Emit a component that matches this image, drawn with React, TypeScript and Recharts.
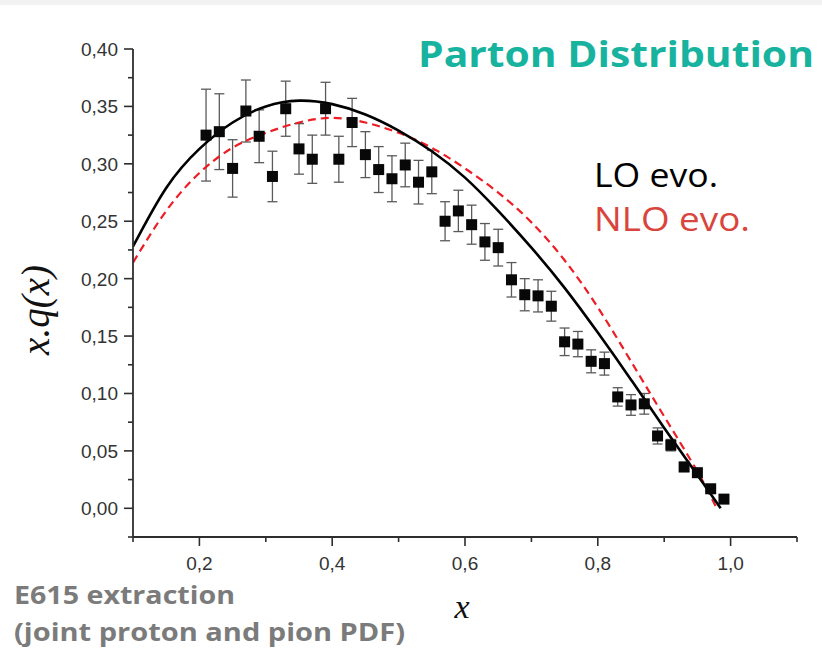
import { ComposedChart, Line, Scatter, ErrorBar, XAxis, YAxis } from 'recharts';

// E615 extraction points (x, x.q(x), error)
const pointX = [0.21, 0.23, 0.25, 0.27, 0.29, 0.31, 0.33, 0.35, 0.37, 0.39, 0.41, 0.43, 0.45, 0.47, 0.49, 0.51, 0.53, 0.55, 0.57, 0.59, 0.61, 0.63, 0.65, 0.67, 0.69, 0.71, 0.73, 0.75, 0.77, 0.79, 0.81, 0.83, 0.85, 0.87, 0.89, 0.91, 0.93, 0.95, 0.97, 0.99];
const pointY = [0.325, 0.328, 0.296, 0.346, 0.324, 0.289, 0.348, 0.313, 0.304, 0.348, 0.304, 0.336, 0.308, 0.295, 0.287, 0.299, 0.284, 0.293, 0.250, 0.259, 0.247, 0.232, 0.227, 0.199, 0.186, 0.185, 0.176, 0.145, 0.143, 0.128, 0.126, 0.097, 0.090, 0.091, 0.063, 0.055, 0.036, 0.031, 0.017, 0.008];
const pointErr = [0.040, 0.033, 0.025, 0.027, 0.023, 0.022, 0.024, 0.022, 0.021, 0.023, 0.020, 0.021, 0.020, 0.020, 0.020, 0.019, 0.019, 0.019, 0.017, 0.018, 0.017, 0.016, 0.016, 0.015, 0.014, 0.014, 0.013, 0.012, 0.011, 0.010, 0.010, 0.008, 0.009, 0.009, 0.007, 0.005, 0.004, 0.003, 0.002, 0.001];

// LO evolution curve
const loX = [0.1, 0.15, 0.2, 0.25, 0.3, 0.35, 0.4, 0.45, 0.5, 0.55, 0.6, 0.65, 0.7, 0.75, 0.8, 0.85, 0.9, 0.95, 0.985];
const loY = [0.228, 0.279, 0.313, 0.336, 0.350, 0.355, 0.352, 0.343, 0.329, 0.311, 0.288, 0.259, 0.227, 0.192, 0.153, 0.112, 0.070, 0.029, 0.0];

// NLO evolution curve
const nloX = [0.1, 0.15, 0.2, 0.25, 0.3, 0.35, 0.4, 0.45, 0.5, 0.55, 0.6, 0.65, 0.7, 0.75, 0.8, 0.85, 0.9, 0.95, 0.979];
const nloY = [0.214, 0.259, 0.292, 0.314, 0.327, 0.336, 0.340, 0.336, 0.327, 0.314, 0.296, 0.275, 0.249, 0.216, 0.175, 0.128, 0.080, 0.032, 0.0];

const xTicks = [0.1, 0.2, 0.3, 0.4, 0.5, 0.6, 0.7, 0.8, 0.9, 1.0, 1.1];
const yTicks = [-0.025, 0, 0.025, 0.05, 0.075, 0.1, 0.125, 0.15, 0.175, 0.2, 0.225, 0.25, 0.275, 0.3, 0.325, 0.35, 0.375, 0.4];

const points = pointX.map((x, i) => ({ x, y: pointY[i], err: pointErr[i] }));
const loData = loX.map((x, i) => ({ x, y: loY[i] }));
const nloData = nloX.map((x, i) => ({ x, y: nloY[i] }));

const AXIS = '#2e2e2e';
const TICK_FONT = '"Liberation Sans", Arial, sans-serif';

function XTick(props: any) {
  const { x, y, payload } = props;
  const major = Math.round(payload.value * 10) % 2 === 0;
  return (
    <g>
      <line x1={x} x2={x} y1={y} y2={y + (major ? 9 : 5)} stroke={AXIS} strokeWidth={1.6} />
      {major && (
        <text x={x} y={y + 33} textAnchor="middle" fontSize={19} fontFamily={TICK_FONT} fill="#333">
          {payload.value.toFixed(1).replace('.', ',')}
        </text>
      )}
    </g>
  );
}

function YTick(props: any) {
  const { x, y, payload } = props;
  const major = Math.round(payload.value * 1000) % 50 === 0;
  return (
    <g>
      <line x1={x} x2={x - (major ? 9 : 5)} y1={y} y2={y} stroke={AXIS} strokeWidth={1.6} />
      {major && (
        <text x={x - 15} y={y + 7} textAnchor="end" fontSize={19} fontFamily={TICK_FONT} fill="#333">
          {payload.value.toFixed(2).replace('.', ',')}
        </text>
      )}
    </g>
  );
}

function Square(props: any) {
  const { cx, cy } = props;
  return <rect x={cx - 5.5} y={cy - 5.5} width={11} height={11} fill="#080808" />;
}

export default function App() {
  return (
    <div style={{ position: 'absolute', left: 0, top: 0, width: 822, height: 659, background: '#fff' }}>
      <div style={{ position: 'absolute', left: 0, top: 0, width: 822, height: 5, background: '#f1f2f1' }} />
      <ComposedChart width={822} height={659} margin={{ top: 49, right: 25, left: 0, bottom: 0 }}>
        <XAxis
          dataKey="x"
          type="number"
          domain={[0.1, 1.1]}
          ticks={xTicks}
          interval={0}
          allowDataOverflow
          height={122}
          tickSize={0}
          tickMargin={0}
          tickLine={false}
          axisLine={{ stroke: AXIS, strokeWidth: 1.8 }}
          tick={(p: any) => <XTick {...p} />}
        />
        <YAxis
          type="number"
          domain={[-0.025, 0.4]}
          ticks={yTicks}
          interval={0}
          allowDataOverflow
          width={133}
          tickSize={0}
          tickMargin={0}
          tickLine={false}
          axisLine={{ stroke: AXIS, strokeWidth: 1.8 }}
          tick={(p: any) => <YTick {...p} />}
        />
        <Scatter data={points} dataKey="y" shape={<Square />} isAnimationActive={false}>
          <ErrorBar dataKey="err" direction="y" width={5} stroke="#5a5a5a" strokeWidth={1.3} isAnimationActive={false} />
        </Scatter>
        <Line
          data={nloData}
          dataKey="y"
          type="natural"
          stroke="#ee1c25"
          strokeWidth={2.2}
          strokeDasharray="8 5"
          dot={false}
          activeDot={false}
          isAnimationActive={false}
        />
        <Line
          data={loData}
          dataKey="y"
          type="natural"
          stroke="#000"
          strokeWidth={2.6}
          dot={false}
          activeDot={false}
          isAnimationActive={false}
        />
      </ComposedChart>
      <svg width={822} height={659} style={{ position: 'absolute', left: 0, top: 0, pointerEvents: 'none' }}>
        <text x={418} y={67} fontSize={36} fontWeight={700} fontFamily='"Open Sans", sans-serif' fill="#17b39f" textLength={396} lengthAdjust="spacingAndGlyphs">
          Parton Distribution
        </text>
        <text x={594} y={187} fontSize={33} fontFamily='"Open Sans", sans-serif' fill="#000" textLength={124} lengthAdjust="spacingAndGlyphs">
          LO evo.
        </text>
        <text x={594} y={231} fontSize={33} fontFamily='"Open Sans", sans-serif' fill="#d9453c" textLength={156} lengthAdjust="spacingAndGlyphs">
          NLO evo.
        </text>
        <text x={14} y={604} fontSize={25} fontWeight={700} fontFamily='"Open Sans", sans-serif' fill="#7b7b7b" textLength={221} lengthAdjust="spacingAndGlyphs">
          E615 extraction
        </text>
        <text x={14} y={641} fontSize={25} fontWeight={700} fontFamily='"Open Sans", sans-serif' fill="#7b7b7b" textLength={391} lengthAdjust="spacingAndGlyphs">
          (joint proton and pion PDF)
        </text>
        <text x={462} y={618} textAnchor="middle" fontSize={34} fontStyle="italic" fontFamily='"Liberation Serif", "Times New Roman", serif' fill="#111">
          x
        </text>
        <text x={0} y={0} transform="translate(49,310) rotate(-90)" textAnchor="middle" fontSize={39} fontStyle="italic" fontFamily='"Liberation Serif", "Times New Roman", serif' fill="#111">
          x.q(x)
        </text>
      </svg>
    </div>
  );
}
